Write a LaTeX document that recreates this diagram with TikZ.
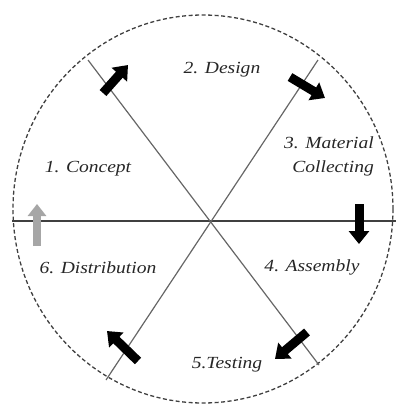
\documentclass[tikz,border=0pt]{standalone}
\usepackage{fontspec}
\newfontfamily\labfont[FakeStretch=1.15]{Liberation Serif}
\usetikzlibrary{arrows.meta}
\tikzset{
  circ/.style={draw=black!75, line width=1.3pt, dash pattern=on 4pt off 2.5pt},
  axis/.style={draw=black!75, line width=1.8pt},
  diag/.style={draw=black!60, line width=1.2pt},
  blk/.style={draw=black, line width=9pt, -{Triangle[length=13pt,width=20pt]}},
  gblk/.style={draw=black!35, line width=8pt, -{Triangle[length=12pt,width=18pt]}},
  lab/.style={font=\labfont\itshape\fontsize{17}{20}\selectfont, text=black!85, inner sep=0pt, align=center}
}
\begin{document}
\begin{tikzpicture}[x=1pt,y=-1pt]
\useasboundingbox (0,0) rectangle (396,408);
% circle
\draw[circ] (203,209) ellipse [x radius=190pt, y radius=194pt];
% axes
\coordinate (c) at (210,221);
\coordinate (h1) at (12,221);
\coordinate (h2) at (396,221);
\coordinate (d1a) at (88,60);
\coordinate (d1b) at (319,365);
\coordinate (d2a) at (318,60);
\coordinate (d2b) at (106,380);
\draw[axis] (h1) -- (h2);
\draw[diag] (d1a) -- (d1b);
\draw[diag] (d2a) -- (d2b);
% arrows
\coordinate (a1t) at (103,93);  \coordinate (a1h) at (128,65);
\coordinate (a2t) at (290,77);  \coordinate (a2h) at (325,98);
\coordinate (a3t) at (359,204); \coordinate (a3h) at (359,244);
\coordinate (a4t) at (307,332); \coordinate (a4h) at (275,359);
\coordinate (a5t) at (138,361); \coordinate (a5h) at (107,331);
\coordinate (a6t) at (37,246);  \coordinate (a6h) at (37,204);
\draw[blk] (a1t) -- (a1h);
\draw[blk] (a2t) -- (a2h);
\draw[blk] (a3t) -- (a3h);
\draw[blk] (a4t) -- (a4h);
\draw[blk] (a5t) -- (a5h);
\draw[gblk] (a6t) -- (a6h);
% labels
\node[lab] (l1) at (88,169) {1. Concept};
\node[lab] (l2) at (222,70) {2. Design};
\node[lab, anchor=east] (l3a) at (374,143) {3. Material};
\node[lab, anchor=east] (l3b) at (374,168) {Collecting};
\node[lab] (l4) at (312,267) {4. Assembly};
\node[lab] (l5) at (227,365) {5.Testing};
\node[lab] (l6) at (98,268) {6. Distribution};
\end{tikzpicture}
\end{document}
